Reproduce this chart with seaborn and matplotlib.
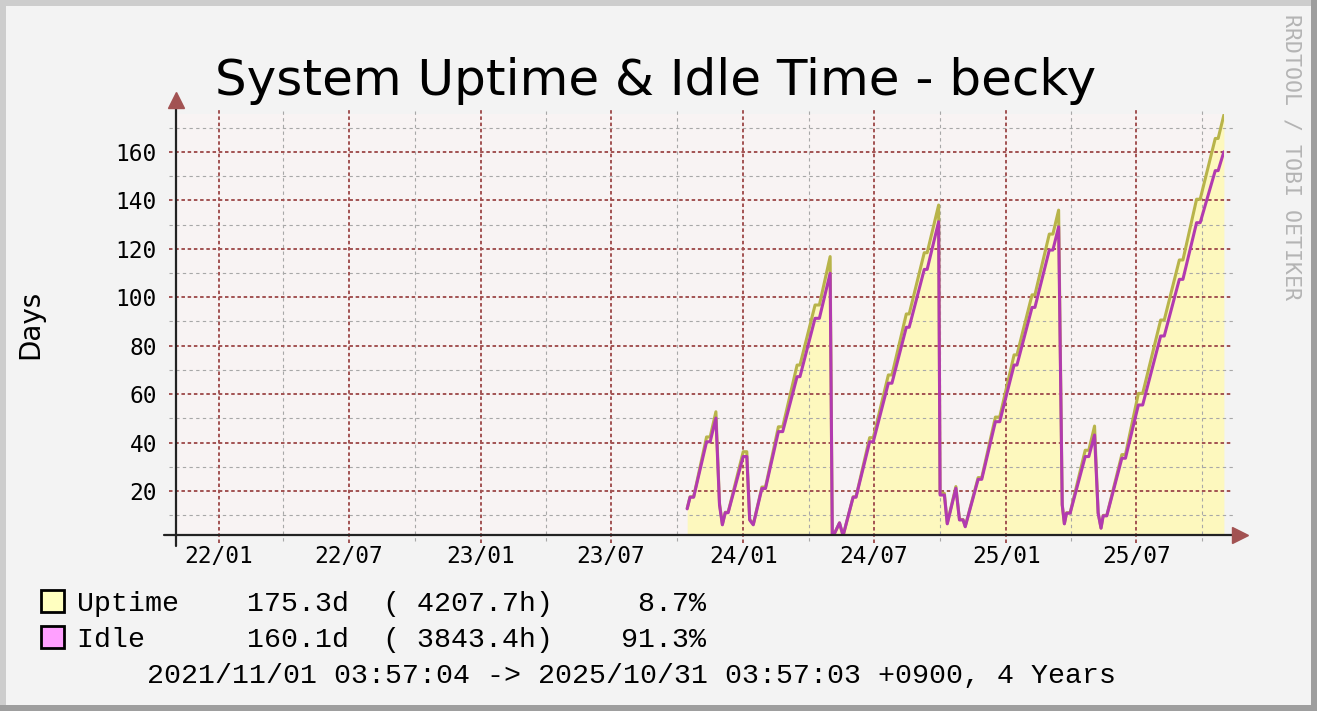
import matplotlib
matplotlib.use('Agg')
import matplotlib.pyplot as plt
import matplotlib.dates as mdates
from matplotlib.patches import Rectangle
import pandas as pd
import seaborn as sns

# uptime / idle readings (days), break points of the rrd graph
dates = ['2023-10-15', '2023-10-19', '2023-10-24', '2023-11-11', '2023-11-16', '2023-11-24', '2023-11-29', '2023-12-03', '2023-12-07', '2023-12-11',
         '2024-01-01', '2024-01-06', '2024-01-10', '2024-01-15', '2024-01-27', '2024-02-01', '2024-02-19', '2024-02-25', '2024-03-16', '2024-03-20',
         '2024-04-10', '2024-04-16', '2024-05-01', '2024-05-04', '2024-05-14', '2024-05-19', '2024-06-02', '2024-06-06', '2024-06-25', '2024-06-30',
         '2024-07-21', '2024-07-26', '2024-08-15', '2024-08-19', '2024-09-09', '2024-09-13', '2024-09-29', '2024-10-01', '2024-10-07', '2024-10-11',
         '2024-10-23', '2024-10-28', '2024-11-02', '2024-11-05', '2024-11-23', '2024-11-28', '2024-12-17', '2024-12-23',
         '2025-01-12', '2025-01-16', '2025-02-06', '2025-02-10', '2025-03-02', '2025-03-07', '2025-03-15', '2025-03-20', '2025-03-23', '2025-03-26', '2025-03-31',
         '2025-04-21', '2025-04-26', '2025-05-04', '2025-05-09', '2025-05-13', '2025-05-16', '2025-05-21', '2025-06-11', '2025-06-16',
         '2025-07-04', '2025-07-10', '2025-08-04', '2025-08-09', '2025-08-30', '2025-09-04', '2025-09-23', '2025-09-28', '2025-10-19', '2025-10-23', '2025-10-31']
uptime = [12.8, 17.6, 17.6, 42.3, 42.3, 52.7, 15.0, 6.2, 11.2, 11.2,
          36.2, 36.2, 8.3, 6.2, 21.6, 21.6, 46.5, 46.5, 72.0, 72.0,
          96.8, 96.8, 116.8, 0.5, 6.8, 1.5, 17.6, 17.6, 42.0, 42.0,
          67.9, 67.9, 93.1, 93.1, 118.4, 118.4, 138.1, 19.0, 19.0, 6.6,
          21.8, 8.2, 8.2, 5.4, 25.5, 25.5, 50.5, 50.5,
          76.2, 76.2, 101.0, 101.0, 126.1, 126.1, 136.0, 14.5, 6.5, 11.0, 11.0,
          36.8, 36.8, 46.8, 11.0, 4.7, 9.9, 9.9, 35.0, 35.0,
          60.3, 60.3, 90.6, 90.6, 115.4, 115.4, 140.5, 140.5, 165.6, 165.6, 175.3]
idle = [12.6, 17.4, 17.4, 40.3, 40.3, 50.1, 14.2, 6.0, 11.0, 11.0,
        34.2, 34.2, 8.0, 6.0, 21.0, 21.0, 44.5, 44.5, 67.2, 67.2,
        91.3, 91.3, 109.9, 0.5, 6.8, 1.5, 17.4, 17.4, 40.3, 40.3,
        64.5, 64.5, 87.6, 87.6, 111.5, 111.5, 131.2, 18.3, 18.3, 6.4,
        21.1, 8.0, 8.0, 5.2, 24.8, 24.8, 48.6, 48.6,
        72.0, 72.0, 95.8, 95.8, 119.5, 119.5, 129.1, 14.2, 6.4, 10.8, 10.8,
        34.2, 34.2, 43.1, 10.8, 4.6, 9.7, 9.7, 33.5, 33.5,
        55.5, 55.5, 84.0, 84.0, 107.4, 107.4, 130.8, 130.8, 152.3, 152.3, 160.1]

x_range = ['2021-11-01 03:57:04', '2025-10-31 03:57:03']
y_range = [2.0, 175.7]
y_major = [20, 40, 60, 80, 100, 120, 140, 160]
y_minor = [10, 30, 50, 70, 90, 110, 130, 150, 170]

title = 'System Uptime & Idle Time - becky'
legend_rows = ['Uptime    175.3d  ( 4207.7h)     8.7%',
               'Idle      160.1d  ( 3843.4h)    91.3%']
legend_colors = ['#FFFFC0', '#FFA0FF']
period = '2021/11/01 03:57:04 -> 2025/10/31 03:57:03 +0900, 4 Years'

sns.set_theme(style='white')
plt.rcParams['font.family'] = ['DejaVu Sans']

W, H = 1317, 711
fig = plt.figure(figsize=(W / 100, H / 100), dpi=100, facecolor='#F3F3F3')
ax = fig.add_axes([175 / W, 1 - 534.5 / H, 1049 / W, 420.5 / H])
ax.set_facecolor('#F8F3F3')

df = pd.DataFrame({'date': pd.to_datetime(dates), 'Uptime': uptime, 'Idle': idle})

ax.fill_between(df['date'], 0, df['Uptime'], color='#FDF8BE', lw=0, zorder=1)
sns.lineplot(data=df, x='date', y='Uptime', ax=ax, color='#B8B44A', lw=2.2,
             estimator=None, sort=False, zorder=4)
sns.lineplot(data=df, x='date', y='Idle', ax=ax, color='#B23AB0', lw=2.2,
             estimator=None, sort=False, zorder=5)

ax.set_xlim(pd.to_datetime(x_range[0]), pd.to_datetime(x_range[1]))
ax.set_ylim(*y_range)

# grid, rrdtool style (sticks out a little past the plot area)
red = '#A25252'
gray = '#A8A8A8'
for v in y_minor:
    ax.axhline(v, xmin=-0.006, xmax=1.0086, color=gray, lw=0.8, ls=(0, (3, 3)), clip_on=False, zorder=2)
for v in y_major:
    ax.axhline(v, xmin=-0.006, xmax=1.0086, color=red, lw=1.4, ls=(0, (1.8, 1.4)), clip_on=False, zorder=3)

ax.xaxis.set_major_locator(mdates.MonthLocator(bymonth=[1, 7]))
ax.xaxis.set_minor_locator(mdates.MonthLocator(bymonth=[4, 10]))
ax.xaxis.set_major_formatter(mdates.DateFormatter('%y/%m'))
lo, hi = ax.get_xlim()
for t in ax.xaxis.get_minorticklocs():
    if lo <= t <= hi:
        ax.axvline(t, ymin=-0.016, ymax=1.014, color=gray, lw=0.8, ls=(0, (3, 3)), clip_on=False, zorder=2)
for t in ax.xaxis.get_majorticklocs():
    if lo <= t <= hi:
        ax.axvline(t, ymin=-0.02, ymax=1.014, color=red, lw=1.4, ls=(0, (1.8, 1.4)), clip_on=False, zorder=3)

ax.set_yticks(y_major)
ax.set_yticklabels([str(v) for v in y_major])
ax.tick_params(axis='y', which='both', length=0, pad=13, labelsize=16.4, colors='black')
ax.tick_params(axis='x', which='both', length=0, pad=7.5, labelsize=16.4, colors='black')
for lab in ax.get_xticklabels() + ax.get_yticklabels():
    lab.set_family('DejaVu Sans Mono')
ax.set_xlabel('')
ax.set_ylabel('')
for s in ax.spines.values():
    s.set_visible(False)
ax.grid(False)

# axes with arrow heads
ax.plot([-0.0105, 1.0086], [0, 0], transform=ax.transAxes, color='#222222', lw=1.6, clip_on=False, zorder=6)
ax.plot([0.001, 0.001], [-0.027, 1.017], transform=ax.transAxes, color='#222222', lw=1.6, clip_on=False, zorder=6)
ax.plot([1.0153], [0], marker='>', ms=12, color=red, mec=red, transform=ax.transAxes, clip_on=False, zorder=6)
ax.plot([0.001], [1.033], marker='^', ms=12, color=red, mec=red, transform=ax.transAxes, clip_on=False, zorder=6)

fig.text(656 / W, 1 - 95 / H, title, ha='center', va='baseline', fontsize=36, color='black')
fig.text(30 / W, 1 - 324 / H, 'Days', rotation=90, ha='center', va='center', fontsize=20, color='black')
fig.text(1292 / W, 1 - 14 / H, 'RRDTOOL / TOBI OETIKER', rotation=270, ha='center', va='top',
         fontsize=15.5, family='DejaVu Sans Mono', color='#B4B4B4')

# legend
for i, (row, c) in enumerate(zip(legend_rows, legend_colors)):
    y0 = 590 + i * 36
    fig.add_artist(Rectangle((41 / W, 1 - (y0 + 22) / H), 23 / W, 22 / H, transform=fig.transFigure,
                             fc=c, ec='black', lw=2))
    fig.text(77 / W, 1 - (611 + i * 36) / H, row, ha='left', va='baseline', fontsize=20.3,
             family='Liberation Mono', color='black')
fig.text(147 / W, 1 - 683 / H, period, ha='left', va='baseline', fontsize=20.3,
         family='Liberation Mono', color='black')

# 3d frame of the canvas
fig.add_artist(Rectangle((0, 0), 6 / W, 1, transform=fig.transFigure, fc='#CDCDCD', ec='none'))
fig.add_artist(Rectangle((0, 1 - 6 / H), 1, 6 / H, transform=fig.transFigure, fc='#CDCDCD', ec='none'))
fig.add_artist(Rectangle((1 - 6 / W, 0), 6 / W, 1, transform=fig.transFigure, fc='#9E9E9E', ec='none'))
fig.add_artist(Rectangle((0, 0), 1, 6 / H, transform=fig.transFigure, fc='#9E9E9E', ec='none'))

fig.savefig('out.png', dpi=100, facecolor=fig.get_facecolor())
